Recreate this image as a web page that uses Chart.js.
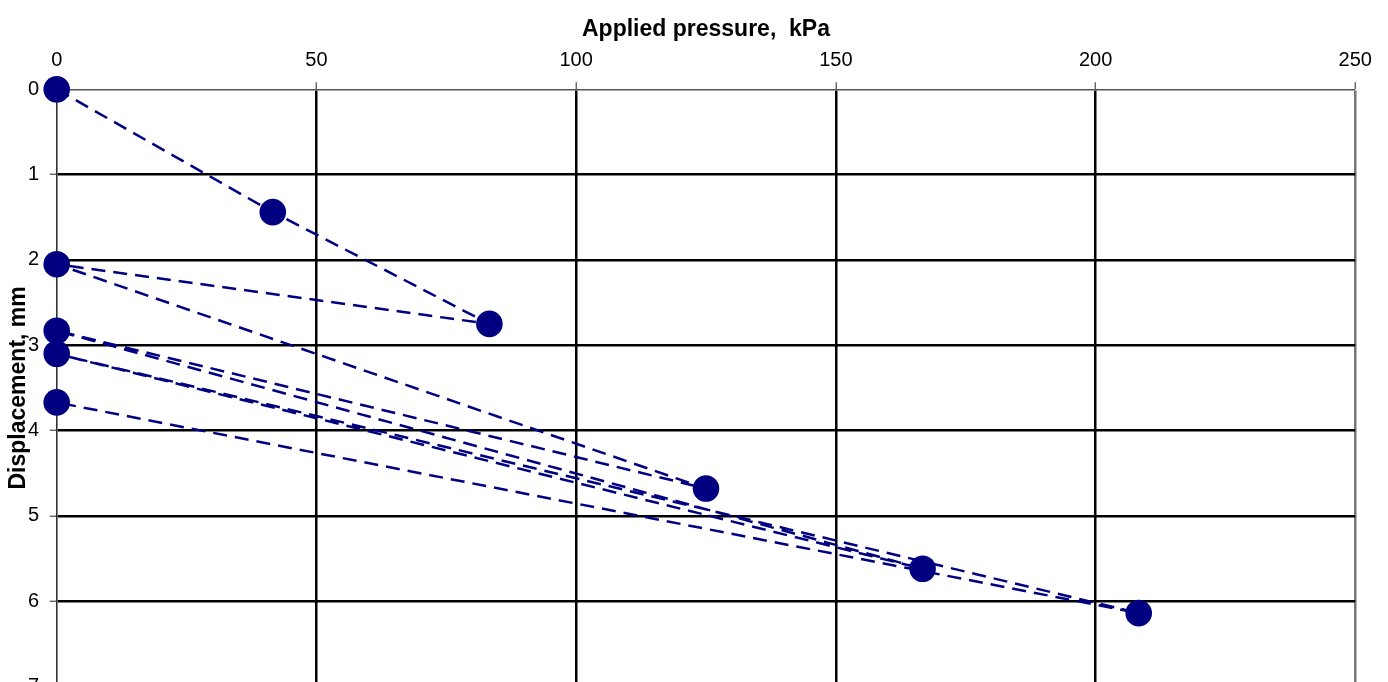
<!DOCTYPE html>
<html>
<head>
<meta charset="utf-8">
<title>Plate load test</title>
<script src="https://cdn.jsdelivr.net/npm/chart.js@4"></script>
<style>
  html, body { margin: 0; padding: 0; background: #fff; overflow: hidden; }
  #wrap { position: absolute; left: 0; top: 0; width: 1388px; height: 709px; }
</style>
</head>
<body>
<div id="wrap"><canvas id="chart" width="1388" height="709"></canvas></div>
<script>
// Loading / unloading sequence: applied pressure (kPa) and settlement (mm)
const pressure     = [0, 41.6, 83.3, 0,    125,  0,    166.7, 0,    208.3, 0];
const displacement = [0, 1.44, 2.75, 2.05, 4.68, 2.83, 5.62,  3.10, 6.14,  3.67];

const pressureTicks = [0, 50, 100, 150, 200, 250];
const displacementTicks = [0, 1, 2, 3, 4, 5, 6, 7];

const points = pressure.map((p, i) => ({ x: p, y: displacement[i] }));

const FONT = "'Liberation Sans', Arial, sans-serif";
const NAVY = '#000080';

// the first grid line sits on the axis line, so it is not drawn twice
const gridWidth = (ctx) => (ctx.index === 0 ? 0 : 2.5);

new Chart(document.getElementById('chart'), {
  type: 'scatter',
  data: {
    datasets: [{
      data: points,
      showLine: true,
      clip: false,
      borderColor: NAVY,
      borderWidth: 2.5,
      borderDash: [14, 8],
      backgroundColor: NAVY,
      pointBackgroundColor: NAVY,
      pointBorderColor: NAVY,
      pointBorderWidth: 0,
      pointRadius: 13.3,
      pointHoverRadius: 13.3,
      tension: 0
    }]
  },
  options: {
    responsive: false,
    devicePixelRatio: 1,
    animation: false,
    events: [],
    layout: { autoPadding: false, padding: { left: 0, top: 0, right: 32.7, bottom: 14 } },
    plugins: {
      legend: { display: false },
      tooltip: { enabled: false }
    },
    scales: {
      x: {
        type: 'linear',
        position: 'top',
        min: pressureTicks[0],
        max: pressureTicks[pressureTicks.length - 1],
        afterBuildTicks: (s) => { s.ticks = pressureTicks.map(v => ({ value: v })); },
        afterFit: (s) => { s.height = 89.3; },
        ticks: {
          color: '#000',
          font: { family: FONT, size: 20 },
          padding: 10,
          maxRotation: 0
        },
        grid: {
          color: (ctx) => ctx.index === pressureTicks.length - 1 ? '#777' : '#000',
          lineWidth: gridWidth,
          drawTicks: true,
          tickLength: 7,
          tickColor: '#555',
          tickWidth: 1.3
        },
        border: { display: true, color: '#555', width: 1.4 },
        title: {
          display: true,
          text: 'Applied pressure,  kPa',
          color: '#000',
          font: { family: FONT, size: 23, weight: 'bold', lineHeight: 1 },
          padding: { top: 18.5, bottom: 0 }
        }
      },
      y: {
        type: 'linear',
        reverse: true,
        min: displacementTicks[0],
        max: displacementTicks[displacementTicks.length - 1],
        afterBuildTicks: (s) => { s.ticks = displacementTicks.map(v => ({ value: v })); },
        afterFit: (s) => { s.width = 56.7; },
        ticks: {
          color: '#000',
          font: { family: FONT, size: 20 },
          padding: 10.5
        },
        grid: {
          color: '#000',
          lineWidth: gridWidth,
          drawTicks: true,
          tickLength: 7,
          tickColor: '#555',
          tickWidth: 1.3
        },
        border: { display: true, color: '#333', width: 1.6 },
        title: {
          display: true,
          text: 'Displacement, mm',
          color: '#000',
          font: { family: FONT, size: 23, weight: 'bold', lineHeight: 1 },
          padding: { top: 7, bottom: 0 }
        }
      }
    }
  }
});
</script>
</body>
</html>
